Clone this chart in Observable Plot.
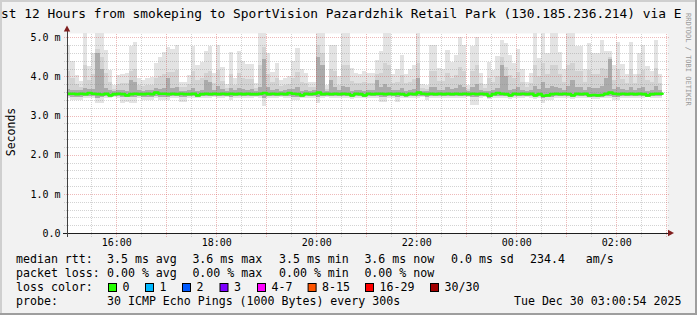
<!DOCTYPE html>
<html><head><meta charset="utf-8">
<script src="https://cdn.jsdelivr.net/npm/d3@7"></script>
<script src="https://cdn.jsdelivr.net/npm/@observablehq/plot@0.6"></script>
<style>
html,body{margin:0;padding:0;background:#f2f2f2;}
#chart{width:697px;height:315px;overflow:hidden;}
svg{display:block}
</style></head><body><div id="chart"></div>
<script>
// ---- data (ms), one value per 5-minute step starting 15:00 ----
const pingMax = [
4.80,4.39,4.03,3.89,5.12,4.27,4.60,5.12,5.12,4.68,
4.16,3.78,4.04,4.06,4.08,4.77,4.88,3.95,3.91,3.95,
3.98,4.35,4.49,4.62,4.74,4.70,4.81,3.85,3.85,4.03,
4.78,4.28,4.37,4.66,4.77,4.10,4.81,4.23,3.80,4.62,
3.95,4.64,4.39,4.31,4.31,3.83,5.12,5.12,4.60,4.12,
4.35,3.91,3.95,4.02,4.39,4.73,4.18,4.10,3.85,3.85,
5.12,5.12,3.78,4.80,4.80,4.00,5.12,5.12,4.22,4.10,
4.06,4.14,4.10,4.08,4.42,4.66,5.12,5.12,4.06,4.18,
4.54,4.06,4.18,4.30,5.12,3.81,3.78,4.80,4.80,4.22,
4.20,4.68,4.37,4.54,5.02,4.80,3.78,4.78,5.02,4.10,
3.81,4.37,4.17,4.52,4.93,4.85,4.54,4.35,4.70,4.18,
3.85,4.10,5.12,4.48,5.12,4.60,5.12,5.12,4.62,4.18,
5.12,5.12,4.78,4.78,4.18,4.85,4.60,4.60,4.93,4.64,
4.64,4.28,4.88,4.31,4.06,4.88,4.06,4.60,4.81,4.27,
4.14,4.93,4.06];
const pingHigh = [
4.15,3.97,3.80,3.74,4.30,3.91,4.06,4.70,4.50,4.10,
3.86,3.69,3.81,3.82,3.83,4.14,4.19,3.77,3.75,3.77,
3.78,3.95,4.01,4.07,4.12,4.11,4.16,3.72,3.72,3.80,
4.14,3.92,3.96,4.09,4.14,3.84,4.16,3.89,3.70,4.07,
3.77,4.08,3.97,3.93,3.93,3.71,4.30,4.75,4.06,3.85,
3.95,3.75,3.77,3.80,3.97,4.12,3.87,3.84,3.72,3.72,
4.80,4.60,3.69,4.20,4.15,3.79,4.30,4.30,3.89,3.84,
3.82,3.85,3.84,3.83,4.05,4.09,4.35,4.30,3.82,3.87,
4.03,3.82,3.87,3.93,4.35,3.71,3.69,4.15,4.15,3.89,
3.88,4.10,3.96,4.03,4.25,4.15,3.69,4.14,4.30,3.84,
3.71,3.96,3.87,4.02,4.50,4.25,4.03,3.95,4.11,3.87,
3.72,3.84,4.30,4.01,4.35,4.06,4.30,4.30,4.07,3.87,
4.30,4.35,4.14,4.14,3.87,4.17,4.06,4.06,4.21,4.20,
4.50,3.92,4.19,3.93,3.82,4.19,3.82,4.06,4.16,3.91,
3.85,4.21,3.82];
const pingUp = [
3.67,3.66,3.65,3.66,3.70,3.68,3.67,4.60,4.20,3.70,
3.65,3.64,3.66,3.66,3.64,3.90,3.85,3.65,3.64,3.66,
3.65,3.70,3.68,3.70,3.95,3.70,3.72,3.64,3.64,3.66,
3.70,3.64,3.66,3.90,3.85,3.66,3.75,3.67,3.64,3.70,
3.65,3.70,3.67,3.66,3.67,3.64,3.72,4.45,3.72,3.66,
3.67,3.64,3.65,3.68,3.68,3.72,3.64,3.66,3.64,3.65,
4.50,4.30,3.64,3.90,3.72,3.65,3.75,3.72,3.64,3.66,
3.65,3.64,3.66,3.65,3.90,3.72,3.80,3.74,3.65,3.66,
3.70,3.64,3.66,3.67,3.95,3.64,3.64,3.74,3.72,3.66,
3.66,3.72,3.67,3.70,3.78,3.74,3.64,3.72,3.80,3.66,
3.64,3.64,3.66,3.70,4.30,4.00,3.66,3.67,3.72,3.66,
3.64,3.66,3.75,3.68,3.85,3.70,3.75,3.72,3.70,3.66,
3.75,3.90,3.72,3.72,3.66,3.72,3.70,3.70,3.75,3.95,
4.45,3.67,3.74,3.67,3.65,3.74,3.65,3.70,3.74,3.64,
3.65,3.75,3.65];
const pingMed = [
3.57,3.57,3.56,3.57,3.56,3.59,3.57,3.56,3.55,3.57,
3.53,3.56,3.57,3.56,3.53,3.56,3.57,3.56,3.56,3.57,
3.56,3.60,3.57,3.57,3.56,3.57,3.56,3.57,3.56,3.56,
3.57,3.53,3.56,3.57,3.56,3.57,3.56,3.57,3.56,3.57,
3.56,3.57,3.56,3.57,3.56,3.56,3.57,3.59,3.56,3.57,
3.56,3.57,3.56,3.59,3.57,3.56,3.53,3.57,3.56,3.57,
3.60,3.56,3.57,3.56,3.57,3.56,3.57,3.56,3.53,3.57,
3.56,3.53,3.57,3.56,3.57,3.57,3.56,3.57,3.56,3.57,
3.56,3.54,3.57,3.56,3.60,3.57,3.56,3.57,3.56,3.57,
3.56,3.57,3.56,3.57,3.56,3.57,3.56,3.57,3.56,3.57,
3.56,3.52,3.56,3.59,3.57,3.56,3.53,3.57,3.56,3.57,
3.56,3.57,3.53,3.56,3.52,3.53,3.56,3.57,3.56,3.57,
3.56,3.53,3.57,3.56,3.57,3.53,3.54,3.53,3.54,3.57,
3.60,3.57,3.56,3.57,3.56,3.57,3.56,3.57,3.56,3.53,
3.56,3.57,3.57];
const pingLow = [
3.49,3.48,3.48,3.48,3.49,3.50,3.49,3.46,3.47,3.49,
3.47,3.49,3.49,3.47,3.47,3.48,3.48,3.49,3.48,3.48,
3.48,3.50,3.48,3.48,3.48,3.49,3.49,3.47,3.47,3.49,
3.49,3.47,3.49,3.49,3.49,3.49,3.49,3.49,3.49,3.48,
3.49,3.49,3.49,3.49,3.49,3.49,3.49,3.46,3.49,3.49,
3.49,3.49,3.49,3.50,3.48,3.48,3.47,3.49,3.49,3.49,
3.47,3.49,3.49,3.49,3.49,3.49,3.49,3.49,3.47,3.49,
3.49,3.47,3.49,3.49,3.49,3.48,3.47,3.49,3.49,3.48,
3.49,3.47,3.49,3.49,3.50,3.49,3.48,3.49,3.49,3.49,
3.49,3.49,3.49,3.49,3.49,3.49,3.49,3.47,3.47,3.49,
3.49,3.46,3.49,3.50,3.49,3.49,3.47,3.49,3.49,3.49,
3.49,3.49,3.47,3.49,3.46,3.47,3.48,3.49,3.49,3.49,
3.49,3.47,3.49,3.49,3.49,3.47,3.47,3.47,3.47,3.49,
3.50,3.48,3.48,3.49,3.49,3.49,3.49,3.49,3.49,3.48,
3.49,3.49,3.49];
const pingMin = [
3.46,3.39,3.40,3.39,3.45,3.46,3.45,3.31,3.31,3.46,
3.45,3.47,3.46,3.33,3.34,3.33,3.33,3.45,3.39,3.40,
3.39,3.46,3.39,3.39,3.40,3.46,3.45,3.35,3.35,3.46,
3.45,3.44,3.46,3.45,3.46,3.47,3.45,3.46,3.47,3.40,
3.46,3.45,3.46,3.46,3.45,3.47,3.44,3.25,3.45,3.46,
3.46,3.47,3.46,3.45,3.39,3.39,3.44,3.46,3.46,3.45,
3.31,3.44,3.47,3.45,3.46,3.46,3.44,3.45,3.43,3.46,
3.46,3.44,3.46,3.46,3.45,3.35,3.35,3.45,3.46,3.35,
3.45,3.44,3.46,3.46,3.44,3.47,3.39,3.45,3.46,3.46,
3.46,3.45,3.46,3.46,3.45,3.46,3.47,3.27,3.27,3.46,
3.47,3.43,3.46,3.45,3.44,3.45,3.43,3.46,3.45,3.46,
3.47,3.46,3.43,3.45,3.31,3.39,3.39,3.45,3.46,3.46,
3.45,3.43,3.46,3.45,3.46,3.44,3.42,3.42,3.44,3.46,
3.45,3.39,3.39,3.46,3.46,3.45,3.46,3.45,3.46,3.48,
3.46,3.45,3.46];

const yTickValues = [0, 1, 2, 3, 4, 5];
const yTickLabels = ["0.0", "1.0 m", "2.0 m", "3.0 m", "4.0 m", "5.0 m"];
const xTickHours = [16, 18, 20, 22, 24, 26];
const xTickLabels = ["16:00", "18:00", "20:00", "22:00", "00:00", "02:00"];
const lossLabels = ["0", "1", "2", "3", "4-7", "8-15", "16-29", "30/30"];
const lossColors = ["#26ff00", "#00b8ff", "#0059ff", "#7e00ff", "#ff00ff", "#ff5500", "#ff0000", "#a10000"];
const titleText = "st 12 Hours from smokeping to SportVision Pazardzhik Retail Park (130.185.236.214) via E";
const statsRtt = ["3.5 ms avg", "3.6 ms max", "3.5 ms min", "3.6 ms now", "0.0 ms sd", "234.4", "am/s"];
const statsLoss = ["0.00 % avg", "0.00 % max", "0.00 % min", "0.00 % now"];
const probeText = "30 ICMP Echo Pings (1000 Bytes) every 300s";
const stampText = "Tue Dec 30 03:00:54 2025";

// ---- layout ----
const STEP = 5 * 60000;
const seriesStart = Date.UTC(2025, 11, 29, 15, 0, 0);
const domainStart = new Date(Date.UTC(2025, 11, 29, 15, 0, 54));
const domainEnd = new Date(Date.UTC(2025, 11, 30, 3, 0, 54));
const YMAX = 5.11;
const MONO = "DejaVu Sans Mono";

const rows = pingMax.map((m, i) => ({
  t0: new Date(seriesStart + i * STEP),
  t1: new Date(seriesStart + (i + 1) * STEP),
  max: m, high: pingHigh[i], up: pingUp[i], med: pingMed[i], low: pingLow[i], min: pingMin[i]
}));
const medLine = rows.map(r => ({t: r.t0, v: r.med}));
medLine.push({t: rows[rows.length - 1].t1, v: rows[rows.length - 1].med});

const minorY = d3.range(1, 26).map(k => k * 0.2).filter(v => Math.abs(v - Math.round(v)) > 1e-6);
const majorY = yTickValues;
const minorX = d3.range(0, 12).map(k => new Date(Date.UTC(2025, 11, 29, 15, 30) + k * 3600000));
const majorX = d3.range(0, 12).map(k => new Date(Date.UTC(2025, 11, 29, 16, 0) + k * 3600000));
const pxMin = 60000 * 60 / 50; // ms of time per pixel
const gridMinor = "rgba(140,140,140,0.38)";
const gridMajor = "rgba(210,70,70,0.38)";

const plot = Plot.plot({
  width: 697, height: 315,
  marginLeft: 67, marginRight: 30, marginTop: 33, marginBottom: 82,
  style: {background: "transparent", fontFamily: MONO, fontSize: "10px", color: "#000", overflow: "visible"},
  x: {type: "utc", domain: [domainStart, domainEnd]},
  y: {domain: [0, YMAX]},
  marks: [
    Plot.frame({fill: "white", stroke: "none"}),
    Plot.rect(rows, {x1: "t0", x2: "t1", y1: "min", y2: "max", fill: "#e3e3e3", clip: true, shapeRendering: "crispEdges"}),
    Plot.rect(rows, {x1: "t0", x2: "t1", y1: "low", y2: "high", fill: "#d2d2d2", clip: true, shapeRendering: "crispEdges"}),
    Plot.rect(rows, {x1: "t0", x2: "t1", y1: "low", y2: "up", fill: "#ababab", clip: true, shapeRendering: "crispEdges"}),
    Plot.ruleY(minorY, {x1: new Date(+domainStart - 3 * pxMin), x2: new Date(+domainEnd + 2 * pxMin), stroke: gridMinor, strokeDasharray: "1,1", shapeRendering: "crispEdges"}),
    Plot.ruleY(majorY.slice(1), {x1: new Date(+domainStart - 3 * pxMin), x2: new Date(+domainEnd + 2 * pxMin), stroke: gridMajor, strokeDasharray: "1,1", shapeRendering: "crispEdges"}),
    Plot.ruleX(minorX, {y1: -0.09, y2: YMAX, stroke: gridMinor, strokeDasharray: "1,1", shapeRendering: "crispEdges"}),
    Plot.ruleX(majorX, {y1: -0.09, y2: YMAX, stroke: gridMajor, strokeDasharray: "1,1", shapeRendering: "crispEdges"}),
    Plot.line(medLine, {x: "t", y: "v", curve: "step-after", stroke: "#26ff00", strokeWidth: 2.6, clip: true}),
    Plot.ruleY([0], {x1: new Date(+domainStart - 4 * pxMin), x2: new Date(+domainEnd + 2 * pxMin), stroke: "#1f1f1f", shapeRendering: "crispEdges"}),
    Plot.ruleX([domainStart], {y1: -0.09, y2: YMAX + 0.1, stroke: "#404040", shapeRendering: "crispEdges"}),
    Plot.axisY({ticks: yTickValues, tickFormat: (d, i) => yTickLabels[i], tickSize: 0, tickPadding: 7, label: null, fontSize: 10}),
    Plot.axisX({ticks: xTickHours.map(h => new Date(Date.UTC(2025, 11, 29, h))), tickFormat: (d, i) => xTickLabels[i], tickSize: 0, tickPadding: 5, label: null, fontSize: 10})
  ]
});
document.getElementById("chart").appendChild(plot);

const svg = d3.select(plot);
// borders
svg.append("rect").attr("x", 0).attr("y", 0).attr("width", 697).attr("height", 2).attr("fill", "#cfcfcf");
svg.append("rect").attr("x", 0).attr("y", 0).attr("width", 2).attr("height", 315).attr("fill", "#cfcfcf");
svg.append("rect").attr("x", 695).attr("y", 0).attr("width", 2).attr("height", 315).attr("fill", "#9e9e9e");
svg.append("rect").attr("x", 0).attr("y", 313).attr("width", 697).attr("height", 2).attr("fill", "#9e9e9e");

// arrows
const sx = plot.scale("x"), sy = plot.scale("y");
const ax = sx.apply(domainStart), ay = sy.apply(YMAX);
const bx = sx.apply(domainEnd), by = sy.apply(0);
svg.append("path").attr("d", `M${ax},${ay - 7.5}L${ax - 3.2},${ay - 1.5}L${ax + 3.2},${ay - 1.5}Z`).attr("fill", "#801f1f");
svg.append("path").attr("d", `M${bx + 7},${by}L${bx + 1},${by - 3.2}L${bx + 1},${by + 3.2}Z`).attr("fill", "#801f1f");

// title
svg.append("text").attr("x", 1).attr("y", 17.5).attr("text-anchor", "start").attr("font-family", MONO).attr("font-size", 12.85).attr("fill", "#000").attr("xml:space", "preserve").text(titleText);
// watermark
svg.append("text").attr("transform", "translate(685.5,13) rotate(90)").attr("text-anchor", "start").attr("font-family", MONO).attr("font-size", 7).attr("fill", "#999").text("RRDTOOL / TOBI OETIKER");
// y label
svg.append("text").attr("transform", "translate(14.8,132) rotate(-90)").attr("text-anchor", "middle").attr("font-family", MONO).attr("font-size", 11.5).attr("fill", "#000").text("Seconds");

// legend
const LF = 11.6;
function lt(x, y, s, anchor) {
  svg.append("text").attr("x", x).attr("y", y).attr("font-family", MONO).attr("font-size", LF).attr("fill", "#000")
    .attr("text-anchor", anchor || "start").attr("xml:space", "preserve").text(s);
}
const rttX = [107, 192.4, 279, 364.4, 451, 530, 585.8];
lt(16, 263, "median rtt:");
statsRtt.forEach((s, i) => lt(rttX[i], 263, s));
lt(16, 277, "packet loss:");
statsLoss.forEach((s, i) => lt(rttX[i], 277, s));
lt(16, 291, "loss color:");
const swX = [108, 145, 182, 219.5, 257, 307.6, 365, 430];
lossLabels.forEach((s, i) => {
  svg.append("rect").attr("x", swX[i] + 0.5).attr("y", 283.5).attr("width", 8).attr("height", 8)
    .attr("fill", lossColors[i]).attr("stroke", "#000").attr("stroke-width", 1);
  lt(swX[i] + 14.5, 291, s);
});
lt(16, 305, "probe:");
lt(107, 305, probeText);
lt(681.5, 305, stampText, "end");
</script>
</body></html>
